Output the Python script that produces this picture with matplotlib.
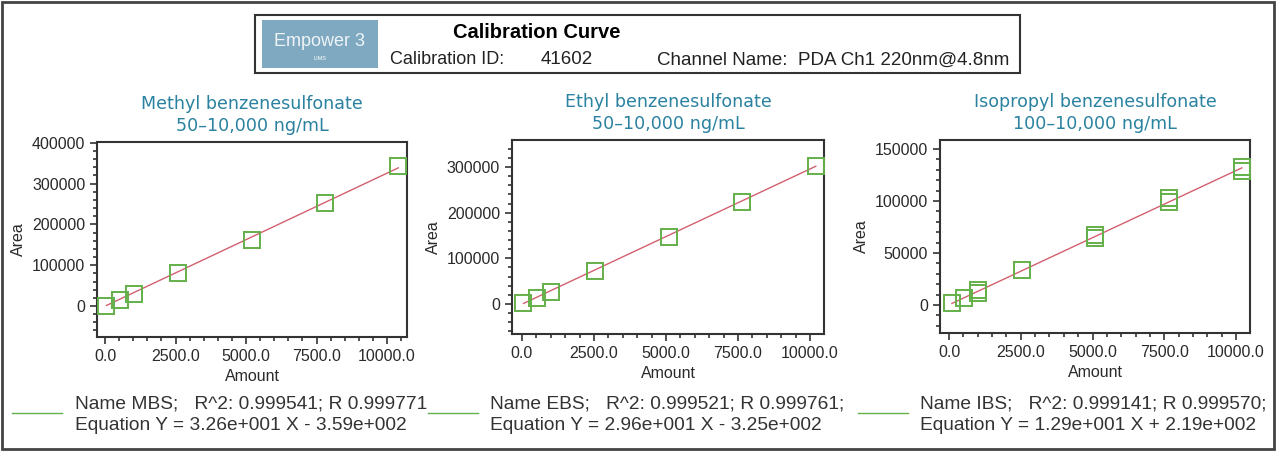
import numpy as np
import matplotlib
matplotlib.use("Agg")
import matplotlib.pyplot as plt
from matplotlib.patches import Rectangle
from matplotlib.lines import Line2D
from matplotlib.ticker import MultipleLocator, FormatStrFormatter

plt.rcParams['font.family'] = ['Liberation Sans', 'DejaVu Sans']

# calibration data
titles = ["Methyl benzenesulfonate\n50\u201310,000 ng/mL",
          "Ethyl benzenesulfonate\n50\u201310,000 ng/mL",
          "Isopropyl benzenesulfonate\n100\u201310,000 ng/mL"]

mbs_amount = [52, 520, 1040, 2600, 5200, 7800, 10400]
mbs_area = [1000, 14700, 29400, 82000, 163000, 253000, 342000]

ebs_amount = [51, 510, 1020, 2550, 5100, 7650, 10200]
ebs_area = [1500, 13000, 26000, 72000, 146000, 224000, 302000]

ibs_amount = [102, 510, 1020, 1020, 2550, 5100, 5100, 7650, 7650, 10200, 10200]
ibs_area = [1800, 6700, 12000, 14000, 33600, 64500, 67000, 99000, 102500, 129000, 133000]

# fit coefficients (slope, intercept) as printed
fits = [(32.6, -359.0), (29.6, -325.0), (12.9, 219.0)]
fit_names = ["Name MBS;   R^2: 0.999541; R 0.999771", "Name EBS;   R^2: 0.999521; R 0.999761;",
             "Name IBS;   R^2: 0.999141; R 0.999570;"]
fit_eqs = ["Equation Y = 3.26e+001 X - 3.59e+002", "Equation Y = 2.96e+001 X - 3.25e+002",
           "Equation Y = 1.29e+001 X + 2.19e+002"]

amounts = [mbs_amount, ebs_amount, ibs_amount]
areas = [mbs_area, ebs_area, ibs_area]

ylims = [(-76000, 402000), (-65700, 359000), (-26900, 158600)]
xlims = [(-284, 10709), (-347, 10486), (-313, 10488)]
ymajor = [100000, 100000, 50000]
yminor = [20000, 20000, 10000]

# axes boxes [left, bottom, width, height]
boxes = [[0.0758, 0.2577, 0.2422, 0.4295],
         [0.4000, 0.2643, 0.2438, 0.4273],
         [0.7344, 0.2665, 0.2422, 0.4251]]

green = '#64b04a'
red = '#d2606e'
teal = '#2a82a0'
tick_col = '#333333'

fig = plt.figure(figsize=(12.8, 4.54), dpi=100)

# outer frame
fig.patches.append(Rectangle((0.0015, 0.011), 0.9935, 0.985, transform=fig.transFigure,
                             fill=False, edgecolor='#444444', linewidth=2))

# header box
fig.patches.append(Rectangle((255 / 1280, 1 - 73 / 454), 765 / 1280, 58 / 454, transform=fig.transFigure,
                             fill=False, edgecolor='#333333', linewidth=1.5))
fig.patches.append(Rectangle((262 / 1280, 1 - 68 / 454), 116 / 1280, 48 / 454, transform=fig.transFigure,
                             facecolor='#7fa9c0', edgecolor='none'))
fig.text(320 / 1280, 1 - 42 / 454, "Empower 3", color='#eef4f8', fontsize=13, ha='center', va='center')
fig.text(320 / 1280, 1 - 58 / 454, "LIMS", color='white', fontsize=4, ha='center', va='center')
fig.text(537 / 1280, 1 - 33 / 454, "Calibration Curve", fontsize=14.5, fontweight='bold', ha='center',
         va='center')
fig.text(390 / 1280, 1 - 60 / 454, "Calibration ID:", fontsize=13, ha='left', va='center', color='#222222')
fig.text(541 / 1280, 1 - 60 / 454, "41602", fontsize=13.5, ha='left', va='center', color='#222222')
fig.text(657 / 1280, 1 - 60 / 454, "Channel Name:  PDA Ch1 220nm@4.8nm", fontsize=13.5, ha='left',
         va='center', color='#222222')

for i in range(3):
    ax = fig.add_axes(boxes[i])
    ax.plot(amounts[i], areas[i], linestyle='none', marker='s', markersize=11,
            markerfacecolor='none', markeredgecolor=green, markeredgewidth=1.4, zorder=3)
    slope, icpt = fits[i]
    xs = np.array([amounts[i][0], amounts[i][-1]])
    ax.plot(xs, slope * xs + icpt, color=red, linewidth=1, zorder=2)

    ax.set_xlim(*xlims[i])
    ax.set_ylim(*ylims[i])
    ax.xaxis.set_major_locator(MultipleLocator(2500))
    ax.xaxis.set_minor_locator(MultipleLocator(500))
    ax.xaxis.set_major_formatter(FormatStrFormatter('%.1f'))
    ax.yaxis.set_major_locator(MultipleLocator(ymajor[i]))
    ax.yaxis.set_minor_locator(MultipleLocator(yminor[i]))
    ax.yaxis.set_major_formatter(FormatStrFormatter('%d'))
    ax.tick_params(which='major', direction='out', length=5, width=1.2, color=tick_col,
                   labelsize=11.5, labelcolor='#2a2a2a')
    ax.tick_params(which='minor', direction='out', length=3, width=1.2, color=tick_col)
    for s in ax.spines.values():
        s.set_linewidth(1.5)
        s.set_color('#333333')

    ax.set_xlabel("Amount", fontsize=11.5, labelpad=4, color='#2a2a2a')
    ax.set_ylabel("Area", fontsize=11.5, labelpad=4, color='#2a2a2a')
    ax.set_title(titles[i], fontsize=12.6, color=teal, family='DejaVu Sans', pad=8, linespacing=1.3)

# legend lines under the panels
leg_x = [12, 428, 858]
text_x = [75, 490, 920]
for i in range(3):
    fig.add_artist(Line2D([leg_x[i] / 1280, (leg_x[i] + 50) / 1280], [1 - 413 / 454, 1 - 413 / 454],
                          color=green, linewidth=1, transform=fig.transFigure))
    fig.text(text_x[i] / 1280, 1 - 404 / 454, fit_names[i], fontsize=13.8, ha='left', va='center',
             color='#333333')
    fig.text(text_x[i] / 1280, 1 - 425 / 454, fit_eqs[i], fontsize=13.8, ha='left', va='center',
             color='#333333')

fig.savefig("out.png", dpi=100)
